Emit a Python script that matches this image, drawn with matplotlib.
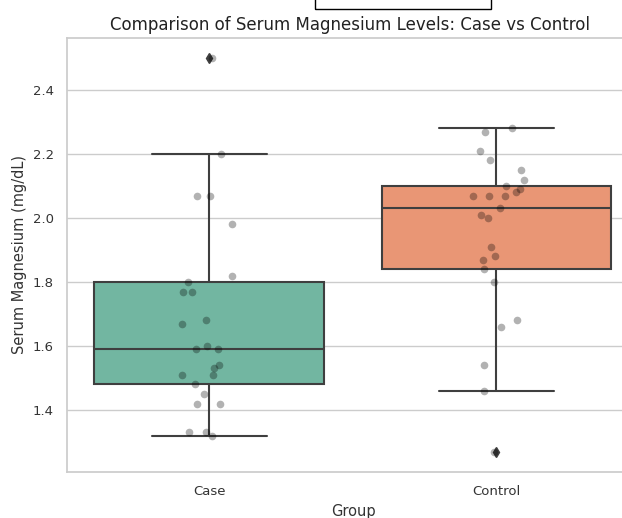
import matplotlib
matplotlib.use("Agg")
import matplotlib.pyplot as plt
from matplotlib.patches import Rectangle
import numpy as np
import pandas as pd
import seaborn as sns

groups = ["Case", "Control"]
case_values = [2.50, 2.20, 2.07, 2.07, 1.98, 1.82, 1.80, 1.77, 1.77, 1.68,
               1.67, 1.60, 1.59, 1.59, 1.54, 1.53, 1.51, 1.51, 1.48, 1.45,
               1.42, 1.42, 1.33, 1.33, 1.32]
control_values = [2.28, 2.27, 2.21, 2.18, 2.15, 2.12, 2.10, 2.09, 2.08, 2.07,
                  2.07, 2.07, 2.03, 2.00, 2.01, 1.91, 1.88, 1.87, 1.84, 1.80,
                  1.68, 1.66, 1.54, 1.46, 1.27]
y_ticks = [1.4, 1.6, 1.8, 2.0, 2.2, 2.4]

df = pd.DataFrame({
    "Group": ["Case"] * len(case_values) + ["Control"] * len(control_values),
    "Mg": case_values + control_values,
})

sns.set_theme(style="whitegrid")
plt.rcParams["font.family"] = ["DejaVu Sans"]

fig = plt.figure(figsize=(6.22, 5.18), dpi=100)
ax = fig.add_axes([67 / 622, 46 / 518, (640 - 67) / 622, (472 - 38) / 518])

pal = sns.color_palette("Set2", 2)
box_kw = dict(order=groups, width=0.8, ax=ax, linewidth=1.5, linecolor="#3f3f3f",
              flierprops=dict(marker="d", markerfacecolor="#3f3f3f",
                              markeredgecolor="#3f3f3f", markersize=5))
try:
    sns.boxplot(data=df, x="Group", y="Mg", hue="Group", palette=pal, legend=False, **box_kw)
except TypeError:
    box_kw.pop("linecolor")
    sns.boxplot(data=df, x="Group", y="Mg", palette=pal, **box_kw)

np.random.seed(3)
sns.stripplot(data=df, x="Group", y="Mg", order=groups, color="black", alpha=0.3,
              jitter=0.1, size=5.5, ax=ax)

ax.set_xlim(-0.495, 1.5)
ax.set_ylim(1.206, 2.5625)
ax.set_yticks(y_ticks)
ax.set_yticklabels([f"{t:.1f}" for t in y_ticks], fontsize=9.5, color="#333333")
ax.tick_params(axis="x", labelsize=9.5, colors="#333333")
ax.set_xlabel("Group", fontsize=10.5, color="#333333")
ax.set_ylabel("Serum Magnesium (mg/dL)", fontsize=10.5, color="#333333")
ax.set_title("Comparison of Serum Magnesium Levels: Case vs Control", fontsize=12,
             color="#222222", x=(350 - 67) / (640 - 67), pad=6)
ax.grid(axis="x", visible=False)

fig.patches.append(Rectangle((315 / 622, 1 - 9 / 518), (491 - 315) / 622, 20 / 518,
                             transform=fig.transFigure, fill=False,
                             edgecolor="black", linewidth=1.0))

fig.savefig("out.png", dpi=100)
